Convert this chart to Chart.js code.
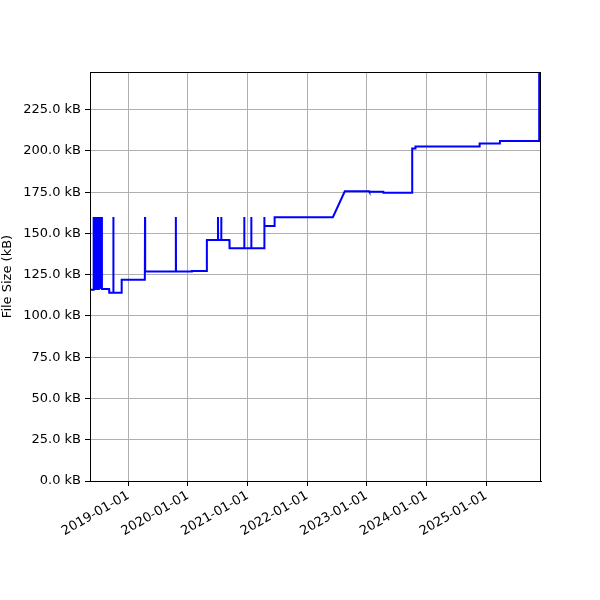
<!DOCTYPE html>
<html>
<head>
<meta charset="utf-8">
<script src="https://cdn.jsdelivr.net/npm/chart.js@4"></script>
<style>
  body { margin: 0; background: #fff; }
  canvas { display: block; }
</style>
</head>
<body>
<canvas id="sizeChart" width="600" height="600"></canvas>
<script>
// commit dates and file size (kB)
const dates = [
    '2018-05-11', '2018-05-30',
    '2018-06-01', '2018-06-04', '2018-06-07', '2018-06-10', '2018-06-13', '2018-06-16',
    '2018-06-19', '2018-06-22', '2018-06-25', '2018-06-28', '2018-07-01', '2018-07-04',
    '2018-07-07', '2018-07-10', '2018-07-13', '2018-07-16', '2018-07-21', '2018-07-23',
    '2018-09-05', '2018-09-06', '2018-09-30', '2018-10-01', '2018-10-02',
    '2018-11-20', '2018-11-21', '2019-04-12', '2019-04-13', '2019-04-14',
    '2019-10-18', '2019-10-19', '2019-10-20', '2020-01-24', '2020-01-25',
    '2020-04-25', '2020-04-26', '2020-07-02', '2020-07-03', '2020-07-04',
    '2020-07-22', '2020-07-23', '2020-07-24', '2020-09-11', '2020-09-12',
    '2020-12-10', '2020-12-11', '2020-12-12', '2021-01-22', '2021-01-23', '2021-01-24',
    '2021-04-12', '2021-04-13', '2021-04-14', '2021-06-14', '2021-06-15',
    '2022-06-07', '2022-08-19', '2023-01-16', '2023-01-17', '2023-04-12', '2023-04-13',
    '2023-10-05', '2023-10-06', '2023-10-25', '2023-10-26', '2024-11-21', '2024-11-22',
    '2025-03-26', '2025-03-27', '2025-11-21', '2025-11-22'
];
const sizes = [
    115.8, 115.8,
    160, 115.8, 160, 115.8, 160, 115.8,
    160, 115.8, 160, 115.8, 160, 115.8,
    160, 116.3, 160, 116.3, 160, 116.3,
    116.3, 114, 114, 160, 114,
    114, 122, 122, 160, 127,
    127, 160, 127, 127, 127.3,
    127.3, 146, 146, 160, 146,
    146, 160, 146, 146, 141,
    141, 160, 141, 141, 160, 141,
    141, 160, 154.5, 154.5, 159.8,
    159.8, 175.5, 175.5, 175.3, 175.3, 174.7,
    174.7, 201.4, 201.4, 202.6, 202.6, 204.5,
    204.5, 206, 206, 247.8
];
const xRange = ['2018-05-11', '2025-12-03'];
const xTickDates = ['2019-01-01', '2020-01-01', '2021-01-01', '2022-01-01',
    '2023-01-01', '2024-01-01', '2025-01-01'];
const yTicks = [0, 25, 50, 75, 100, 125, 150, 175, 200, 225];
const yMax = 247.8;

const toTime = d => Date.parse(d + 'T00:00:00Z');

Chart.defaults.font.family = '"DejaVu Sans", sans-serif';
Chart.defaults.font.size = 13;
Chart.defaults.color = '#000';

// top + right spines like matplotlib
const frame = {
    id: 'frame',
    afterDraw(chart) {
        const { ctx, chartArea: { left, top, right, bottom } } = chart;
        ctx.save();
        ctx.strokeStyle = '#000';
        ctx.lineWidth = 1;
        ctx.strokeRect(left + 0.5, top + 0.5, right - left - 1, bottom - top);
        ctx.restore();
    }
};

new Chart(document.getElementById('sizeChart'), {
    type: 'line',
    data: {
        datasets: [{
            data: dates.map((d, i) => ({ x: toTime(d), y: sizes[i] })),
            borderColor: '#0000ff',
            borderWidth: 2,
            pointRadius: 0,
            tension: 0,
            fill: false
        }]
    },
    options: {
        responsive: false,
        animation: false,
        layout: { padding: { top: 72, right: 59, left: 0, bottom: 0 } },
        plugins: { legend: { display: false }, tooltip: { enabled: false } },
        scales: {
            x: {
                type: 'linear',
                min: toTime(xRange[0]),
                max: toTime(xRange[1]),
                afterBuildTicks(scale) {
                    scale.ticks = xTickDates.map(d => ({ value: toTime(d) }));
                },
                afterFit(scale) { scale.height = 119; },
                ticks: {
                    minRotation: 30,
                    maxRotation: 30,
                    padding: 2,
                    callback: v => new Date(v).toISOString().slice(0, 10)
                },
                grid: { color: '#b0b0b0', lineWidth: 1, tickColor: '#000', tickLength: 5 },
                border: { color: '#000', width: 1 }
            },
            y: {
                min: 0,
                max: yMax,
                afterBuildTicks(scale) {
                    scale.ticks = yTicks.map(v => ({ value: v }));
                },
                afterFit(scale) { scale.width = 90; },
                ticks: {
                    padding: 4,
                    callback: v => v.toFixed(1) + ' kB'
                },
                title: {
                    display: true,
                    text: 'File Size (kB)',
                    padding: 0,
                    font: { size: 13 }
                },
                grid: { color: '#b0b0b0', lineWidth: 1, tickColor: '#000', tickLength: 5 },
                border: { color: '#000', width: 1 }
            }
        }
    },
    plugins: [frame]
});
</script>
</body>
</html>
